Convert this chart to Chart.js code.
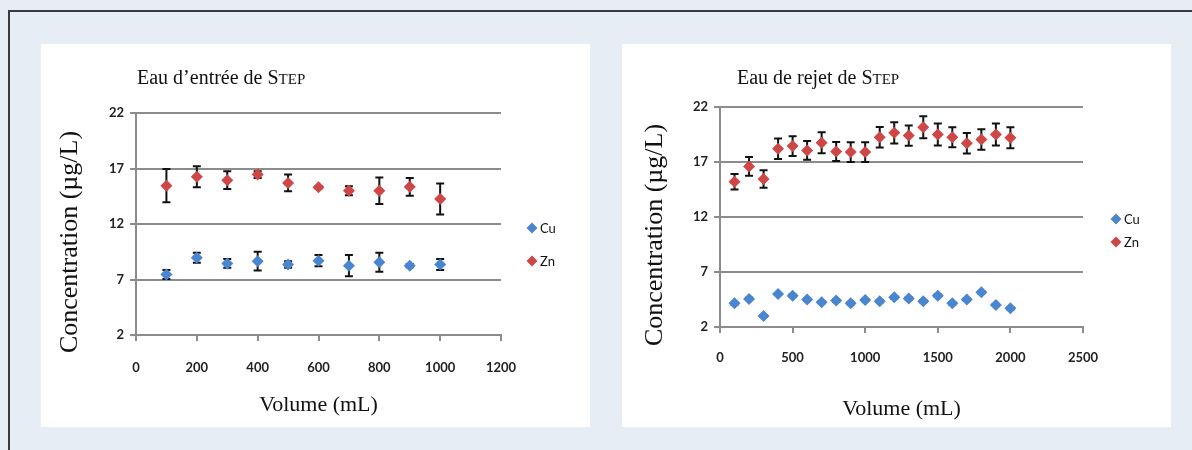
<!DOCTYPE html>
<html>
<head>
<meta charset="utf-8">
<script src="https://cdn.jsdelivr.net/npm/chart.js@4/dist/chart.umd.min.js"></script>
<style>
  html, body { margin: 0; padding: 0; }
  body { width: 1192px; height: 450px; background: #e6edf5; position: relative; overflow: hidden; }
  .frame { position: absolute; left: 8px; top: 10px; width: 1300px; height: 500px; border-left: 2px solid #3a3a3a; border-top: 2px solid #3a3a3a; }
  .panel { position: absolute; top: 44px; width: 549px; height: 383px; background: #ffffff; }
  #panel-entree { left: 41px; }
  #panel-rejet { left: 622px; }
</style>
</head>
<body>
<div class="frame"></div>
<div class="panel" id="panel-entree"><canvas id="chart-entree"></canvas></div>
<div class="panel" id="panel-rejet"><canvas id="chart-rejet"></canvas></div>
<script>
/* data */
const yTickValues = [2, 7, 12, 17, 22];

const entreeVolumes = [100, 200, 300, 400, 500, 600, 700, 800, 900, 1000];
const entreeCu = [7.45, 8.95, 8.45, 8.65, 8.35, 8.7, 8.25, 8.55, 8.25, 8.35];
const entreeCuError = [0.4, 0.45, 0.4, 0.85, 0.3, 0.5, 0.95, 0.85, 0.15, 0.5];
const entreeZn = [15.45, 16.25, 15.95, 16.45, 15.7, 15.3, 15.0, 15.0, 15.35, 14.25];
const entreeZnError = [1.5, 0.95, 0.8, 0.3, 0.75, 0.1, 0.4, 1.2, 0.8, 1.4];

const rejetVolumes = [100, 200, 300, 400, 500, 600, 700, 800, 900, 1000, 1100, 1200, 1300, 1400, 1500, 1600, 1700, 1800, 1900, 2000];
const rejetCu = [4.15, 4.55, 3.0, 5.0, 4.85, 4.5, 4.25, 4.4, 4.15, 4.45, 4.35, 4.7, 4.6, 4.35, 4.85, 4.15, 4.5, 5.15, 4.0, 3.7];
const rejetCuError = [0.1, 0.1, 0.1, 0.1, 0.1, 0.1, 0.1, 0.1, 0.1, 0.1, 0.1, 0.1, 0.1, 0.1, 0.1, 0.1, 0.1, 0.1, 0.1, 0.1];
const rejetZn = [15.2, 16.6, 15.45, 18.2, 18.45, 18.05, 18.75, 17.95, 17.9, 17.9, 19.25, 19.65, 19.4, 20.15, 19.5, 19.25, 18.7, 19.05, 19.5, 19.2];
const rejetZnError = [0.7, 0.85, 0.8, 0.93, 0.9, 0.85, 0.95, 0.87, 0.9, 0.9, 0.93, 0.96, 0.92, 1.0, 1.0, 0.92, 0.93, 0.93, 1.0, 0.96];

/* styles */
const CU_COLOR = '#4a86d0';
const ZN_COLOR = '#cf4646';
const GRID_COLOR = '#8c8c8c';
const TICK_FONT = { family: 'Lato', size: 13, weight: 'bold' };
const SERIF = '"Liberation Serif", "Times New Roman", serif';

/* utilities */
const toPoints = (xs, ys) => xs.map((x, index) => ({ x: x, y: ys[index] }));

const errorBarsPlugin = {
  id: 'errorBars',
  beforeDatasetsDraw: (chart) => {
    const { ctx, scales } = chart;
    ctx.save();
    ctx.strokeStyle = '#111111';
    ctx.lineWidth = 2;
    chart.data.datasets.forEach((dataset) => {
      dataset.data.forEach((point, index) => {
        const error = dataset.errors[index];
        const x = scales.x.getPixelForValue(point.x);
        const top = scales.y.getPixelForValue(point.y + error);
        const bottom = scales.y.getPixelForValue(point.y - error);
        ctx.beginPath();
        ctx.moveTo(x, top);
        ctx.lineTo(x, bottom);
        ctx.moveTo(x - 4, top);
        ctx.lineTo(x + 4, top);
        ctx.moveTo(x - 4, bottom);
        ctx.lineTo(x + 4, bottom);
        ctx.stroke();
      });
    });
    ctx.restore();
  },
};

const headingPlugin = {
  id: 'heading',
  afterDraw: (chart, args, options) => {
    const { ctx, chartArea } = chart;
    ctx.save();
    ctx.fillStyle = '#111111';
    ctx.textBaseline = 'alphabetic';
    ctx.font = '20px ' + SERIF;
    ctx.fillText(options.text, options.x, options.y);
    const width = ctx.measureText(options.text).width;
    ctx.font = '15px ' + SERIF;
    ctx.fillText(options.smallCaps, options.x + width, options.y);

    // vertical axis title, sits a little lower than the plot centre
    ctx.translate(options.yTitleX, (chartArea.top + chartArea.bottom) / 2 + options.yTitleShift);
    ctx.rotate(-Math.PI / 2);
    ctx.font = '26px ' + SERIF;
    ctx.textAlign = 'center';
    ctx.textBaseline = 'middle';
    ctx.fillText(options.yTitle, 0, 0);
    ctx.restore();
  },
};

const sideLegendPlugin = {
  id: 'sideLegend',
  afterDraw: (chart, args, options) => {
    const { ctx } = chart;
    ctx.save();
    chart.data.datasets.forEach((dataset, index) => {
      const x = options.x;
      const y = options.y + index * options.gap;
      ctx.fillStyle = dataset.backgroundColor;
      ctx.beginPath();
      ctx.moveTo(x, y - 5.5);
      ctx.lineTo(x + 5.5, y);
      ctx.lineTo(x, y + 5.5);
      ctx.lineTo(x - 5.5, y);
      ctx.closePath();
      ctx.fill();
      ctx.fillStyle = '#111111';
      ctx.font = '13px Lato';
      ctx.textBaseline = 'middle';
      ctx.fillText(dataset.label, x + 8, y + 1);
    });
    ctx.restore();
  },
};

const createScatterChart = (selector, settings) => {
  const element = document.querySelector(selector);

  return new Chart(element, {
    type: 'scatter',
    data: {
      datasets: [
        {
          label: 'Cu',
          data: toPoints(settings.volumes, settings.cu),
          errors: settings.cuError,
          backgroundColor: CU_COLOR,
          borderColor: CU_COLOR,
          pointStyle: 'rectRot',
          pointRadius: 6,
          borderWidth: 0,
        },
        {
          label: 'Zn',
          data: toPoints(settings.volumes, settings.zn),
          errors: settings.znError,
          backgroundColor: ZN_COLOR,
          borderColor: ZN_COLOR,
          pointStyle: 'rectRot',
          pointRadius: 6,
          borderWidth: 0,
        },
      ],
    },
    options: {
      responsive: true,
      maintainAspectRatio: false,
      animation: false,
      layout: {
        padding: { top: settings.plotTop, right: settings.plotRight, bottom: 0, left: 0 },
      },
      scales: {
        x: {
          type: 'linear',
          min: 0,
          max: settings.xMax,
          afterFit: (scale) => { scale.height = settings.xAxisHeight; },
          ticks: {
            stepSize: settings.xStep,
            color: '#222222',
            font: TICK_FONT,
            padding: settings.xTickPad,
            callback: (value) => String(value),
          },
          grid: { drawOnChartArea: false, drawTicks: true, tickLength: 6, color: GRID_COLOR, lineWidth: 2 },
          border: { display: true, color: GRID_COLOR, width: 2 },
          title: {
            display: true,
            text: 'Volume (mL)',
            color: '#111111',
            font: { family: SERIF, size: 22 },
            padding: { top: 0, bottom: settings.xTitlePad },
          },
        },
        y: {
          min: 2,
          max: 22,
          afterFit: (scale) => { scale.width = settings.yAxisWidth; },
          afterBuildTicks: (scale) => { scale.ticks = yTickValues.map((value) => ({ value: value })); },
          ticks: { color: '#222222', font: TICK_FONT, padding: 6 },
          grid: { color: GRID_COLOR, lineWidth: 2, drawTicks: true, tickLength: 6 },
          border: { display: true, color: GRID_COLOR, width: 2 },
        },
      },
      plugins: {
        legend: { display: false },
        tooltip: { enabled: false },
        heading: {
          text: settings.title,
          smallCaps: 'TEP',
          x: settings.titleX,
          y: 40,
          yTitle: 'Concentration (µg/L)',
          yTitleX: settings.yTitleX,
          yTitleShift: 18,
        },
        sideLegend: { x: settings.legendX, y: settings.legendY, gap: settings.legendGap },
      },
    },
    plugins: [errorBarsPlugin, headingPlugin, sideLegendPlugin],
  });
};

document.addEventListener('DOMContentLoaded', () => {
  createScatterChart('#chart-entree', {
    title: 'Eau d’entrée de S',
    titleX: 96,
    volumes: entreeVolumes,
    cu: entreeCu,
    cuError: entreeCuError,
    zn: entreeZn,
    znError: entreeZnError,
    xMax: 1200,
    xStep: 200,
    plotTop: 69,
    plotRight: 89,
    xAxisHeight: 92,
    xTickPad: 19,
    xTitlePad: 9,
    yAxisWidth: 95,
    yTitleX: 29,
    legendX: 491,
    legendY: 184,
    legendGap: 33,
  });
  createScatterChart('#chart-rejet', {
    title: 'Eau de rejet de S',
    titleX: 115,
    volumes: rejetVolumes,
    cu: rejetCu,
    cuError: rejetCuError,
    zn: rejetZn,
    znError: rejetZnError,
    xMax: 2500,
    xStep: 500,
    plotTop: 63,
    plotRight: 88,
    xAxisHeight: 100,
    xTickPad: 17,
    xTitlePad: 5,
    yAxisWidth: 98,
    yTitleX: 33,
    legendX: 494,
    legendY: 175,
    legendGap: 23,
  });
});
</script>
</body>
</html>
